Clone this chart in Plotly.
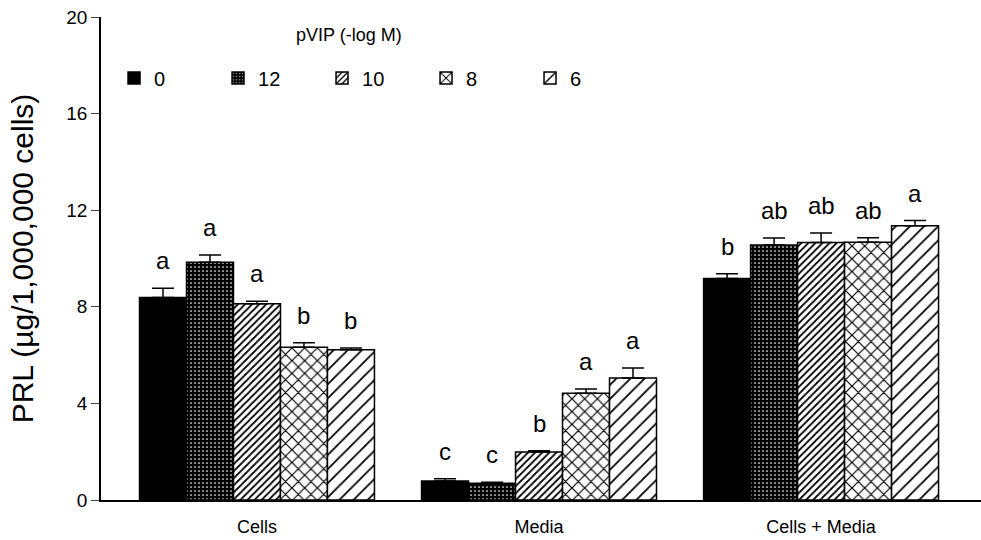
import plotly.graph_objects as go

categories = ["Cells", "Media", "Cells + Media"]
doses = ["0", "12", "10", "8", "6"]
values = {
    "0":  [8.38, 0.79, 9.17],
    "12": [9.84, 0.69, 10.56],
    "10": [8.13, 1.99, 10.66],
    "8":  [6.33, 4.42, 10.67],
    "6":  [6.22, 5.05, 11.36],
}
errors = {
    "0":  [0.39, 0.09, 0.20],
    "12": [0.30, 0.04, 0.29],
    "10": [0.10, 0.05, 0.40],
    "8":  [0.18, 0.18, 0.19],
    "6":  [0.07, 0.42, 0.21],
}
letters = {
    "0":  ["a", "c", "b"],
    "12": ["a", "c", "ab"],
    "10": ["a", "b", "ab"],
    "8":  ["b", "a", "ab"],
    "6":  ["b", "a", "a"],
}
y_ticks = [0, 4, 8, 12, 16, 20]
legend_title = "pVIP (-log M)"

patterns = {
    "0":  dict(shape="", fillmode="replace"),
    "12": dict(shape=".", fgcolor="white", bgcolor="black", size=4, solidity=0.15, fillmode="replace"),
    "10": dict(shape="/", fgcolor="black", bgcolor="white", size=5, solidity=0.35, fillmode="replace"),
    "8":  dict(shape="x", fgcolor="black", bgcolor="white", size=9, solidity=0.25, fillmode="replace"),
    "6":  dict(shape="/", fgcolor="black", bgcolor="white", size=10, solidity=0.18, fillmode="replace"),
}
colors = {"0": "black", "12": "black", "10": "white", "8": "white", "6": "white"}

FONT = "Liberation Sans, Arial"
fig = go.Figure()
for d in doses:
    fig.add_trace(go.Bar(
        name=d, x=categories, y=values[d],
        marker=dict(color=colors[d], line=dict(color="black", width=1.5), pattern=patterns[d]),
        error_y=dict(type="data", array=errors[d], arrayminus=[0]*3, symmetric=False,
                     color="black", thickness=1.5, width=11),
    ))

bar_w = (1 - 0.167) / len(doses)
annotations = []
for i, d in enumerate(doses):
    for j, c in enumerate(categories):
        annotations.append(dict(
            x=j + (i - 2) * bar_w, y=values[d][j] + errors[d][j], xref="x", yref="y",
            text=letters[d][j], showarrow=False, yanchor="bottom", yshift=12,
            font=dict(family=FONT, size=24, color="black"),
        ))
annotations.append(dict(
    x=(349 - 101) / 880, y=(500 - 35) / 483, xref="paper", yref="paper",
    text=legend_title, showarrow=False, xanchor="center", yanchor="middle",
    font=dict(family=FONT, size=18, color="black"),
))

fig.update_layout(
    width=981, height=540,
    margin=dict(l=101, r=0, t=17, b=40),
    paper_bgcolor="white", plot_bgcolor="white",
    barmode="group", bargap=0.167, bargroupgap=0,
    font=dict(family=FONT, color="black"),
    annotations=annotations,
    showlegend=True,
    legend=dict(
        orientation="h", x=0.0148, y=(500 - 78) / 483, xanchor="left", yanchor="middle",
        entrywidth=59, entrywidthmode="pixels",
        font=dict(size=20), bgcolor="rgba(0,0,0,0)",
    ),
    xaxis=dict(range=[-0.553, 2.567], showline=True, linecolor="black", linewidth=1.5,
               ticks="", tickfont=dict(size=18), showgrid=False, ticklabelstandoff=10),
    yaxis=dict(range=[0, 20], tickvals=y_ticks, showline=True, linecolor="black", linewidth=1.5,
               ticks="outside", ticklen=8, tickwidth=1, tickfont=dict(size=19), showgrid=False,
               zeroline=False,
               title=dict(text="PRL (µg/1,000,000 cells)", font=dict(size=30), standoff=24)),
)

fig.write_html("out.html")
